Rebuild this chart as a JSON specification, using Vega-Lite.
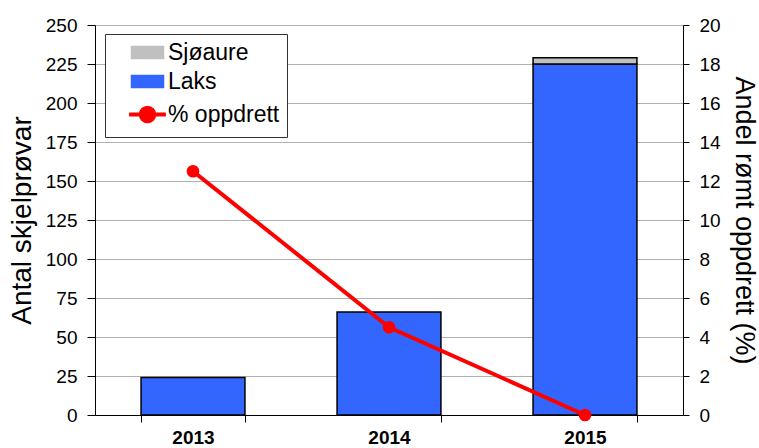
{
  "$schema": "https://vega.github.io/schema/vega-lite/v6.json",
  "width": 588,
  "height": 390,
  "autosize": {"type": "none"},
  "padding": {"left": 95, "top": 25, "right": 76, "bottom": 33},
  "background": "white",
  "config": {"view": {"stroke": null}, "font": "Liberation Sans"},
  "datasets": {
    "prover": [
      {"aar": "2013", "art": "Laks", "antal": 24},
      {"aar": "2014", "art": "Laks", "antal": 66},
      {"aar": "2015", "art": "Laks", "antal": 225},
      {"aar": "2015", "art": "Sjøaure", "antal": 4}
    ],
    "oppdrett": [
      {"aar": "2013", "art": "% oppdrett", "prosent": 12.5},
      {"aar": "2014", "art": "% oppdrett", "prosent": 4.5},
      {"aar": "2015", "art": "% oppdrett", "prosent": 0}
    ]
  },
  "encoding": {
    "x": {
      "field": "aar",
      "type": "nominal",
      "scale": {"paddingInner": 0.47, "paddingOuter": 0.235},
      "axis": {
        "title": null,
        "labelAngle": 0,
        "labelFontWeight": "bold",
        "labelFontSize": 19,
        "labelColor": "black",
        "labelPadding": 6,
        "tickBand": "extent",
        "tickColor": "black",
        "tickSize": 7,
        "domainColor": "black",
        "grid": false
      }
    },
    "color": {
      "field": "art",
      "type": "nominal",
      "scale": {"domain": ["Sjøaure", "Laks", "% oppdrett"], "range": ["#c0c0c0", "#3366ff", "#ff0000"]},
      "legend": {
        "orient": "none",
        "legendX": 10,
        "legendY": 9,
        "title": null,
        "padding": 7,
        "fillColor": "white",
        "strokeColor": "#333333",
        "labelFontSize": 23,
        "labelFont": "Liberation Sans",
        "labelColor": "black",
        "symbolSize": 1024,
        "rowPadding": 5,
        "labelOffset": 4,
        "encode": {
          "labels": {
            "update": {"x": {"value": 56}}
          },
          "symbols": {
            "update": {
              "x": {"value": 35.5},
              "shape": {"signal": "datum.value === '% oppdrett' ? 'M-1.15,0H1.15M0.42,0A0.42,0.42,0,1,1,-0.42,0A0.42,0.42,0,1,1,0.42,0Z' : 'M-1,-0.375H1V0.375H-1Z'"},
              "stroke": {"signal": "datum.value === '% oppdrett' ? '#ff0000' : '#000000'"},
              "strokeWidth": {"signal": "datum.value === '% oppdrett' ? 4 : 1.5"},
              "fill": {"signal": "datum.value === 'Sjøaure' ? '#c0c0c0' : datum.value === 'Laks' ? '#3366ff' : '#ff0000'"},
              "opacity": {"value": 1},
              "fillOpacity": {"value": 1},
              "strokeOpacity": {"value": 1}
            }
          }
        }
      }
    }
  },
  "layer": [
    {
      "data": {"name": "prover"},
      "mark": {"type": "bar", "stroke": "black", "strokeWidth": 1.5},
      "encoding": {
        "y": {
          "field": "antal",
          "type": "quantitative",
          "stack": "zero",
          "scale": {"domain": [0, 250]},
          "axis": {
            "title": "Antal skjelprøvar",
            "titleFontSize": 28,
            "titleFontWeight": "normal",
            "titleColor": "black",
            "titlePadding": 9,
            "values": [0, 25, 50, 75, 100, 125, 150, 175, 200, 225, 250],
            "labelFontSize": 19,
            "labelColor": "black",
            "labelPadding": 10,
            "tickColor": "black",
            "tickSize": 8,
            "domainColor": "black",
            "grid": true,
            "gridColor": "#b0b0b0"
          }
        },
        "order": {"field": "art", "sort": "ascending"}
      }
    },
    {
      "data": {"name": "oppdrett"},
      "mark": {"type": "line", "strokeWidth": 4, "point": {"filled": true, "size": 160, "opacity": 1}},
      "encoding": {
        "y": {
          "field": "prosent",
          "type": "quantitative",
          "scale": {"domain": [0, 20]},
          "axis": {
            "orient": "right",
            "title": "Andel rømt oppdrett (%)",
            "titleFontSize": 27,
            "titleFontWeight": "normal",
            "titleColor": "black",
            "titlePadding": 9,
            "values": [0, 2, 4, 6, 8, 10, 12, 14, 16, 18, 20],
            "labelFontSize": 19,
            "labelColor": "black",
            "labelPadding": 10,
            "tickColor": "black",
            "tickSize": 6,
            "domainColor": "black",
            "grid": false
          }
        }
      }
    }
  ],
  "resolve": {"scale": {"y": "independent"}}
}
